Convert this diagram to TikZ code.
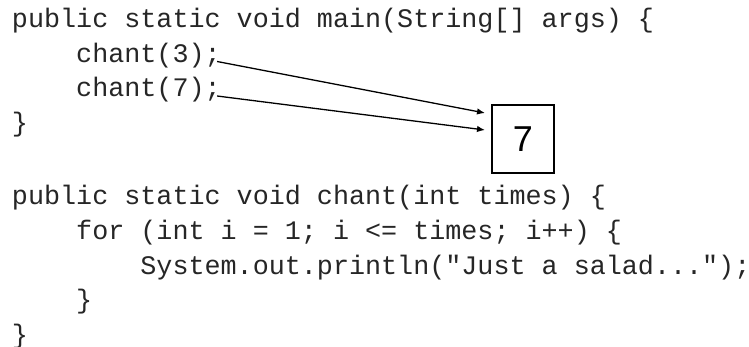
\documentclass[tikz,border=0pt]{standalone}
\usepackage{fontspec}
\setmonofont{Liberation Mono}
\setsansfont{Liberation Sans}
\usetikzlibrary{arrows.meta}
\begin{document}
\begin{tikzpicture}[x=1pt,y=-1pt,
  code/.style={anchor=base west,inner sep=0pt,outer sep=0pt,text=black!85,
    font=\ttfamily\fontsize{26.75}{34.5}\selectfont\frenchspacing},
  valbox/.style={draw,line width=1.5pt,minimum width=62pt,minimum height=68pt,
    inner sep=0pt,outer sep=0pt,font=\sffamily\fontsize{36}{40}\selectfont},
  arr/.style={line width=1.3pt,-{Latex[length=8pt,width=6.5pt]}}]
\useasboundingbox[fill=white] (0,0) rectangle (749,347);
\node[code] (l0) at (12,28) {public static void main(String[] args) \{};
\node[code] (c3) at (12+4*16.05,62.5) {chant(3);};
\node[code] (c7) at (12+4*16.05,97) {chant(7);};
\node[code] (l3) at (12,131.5) {\}};
\node[code] (l5) at (12,205) {public static void chant(int times) \{};
\node[code] (l6) at (12+4*16.05,239.5) {for (int i = 1; i <= times; i++) \{};
\node[code] (l7) at (12+8*16.05,274) {System.out.println("Just a salad...");};
\node[code] (l8) at (12+4*16.05,308.5) {\}};
\node[code] (l9) at (12,343) {\}};
\node[valbox] (box) at (523,139) {7};
\draw[arr] ([shift={(-3.6pt,1pt)}]c3.base east) -- ([shift={(-7pt,-8pt)}]box.north west);
\draw[arr] ([shift={(-3.6pt,1pt)}]c7.base east) -- ([shift={(-7pt,-25pt)}]box.north west);
\end{tikzpicture}
\end{document}
